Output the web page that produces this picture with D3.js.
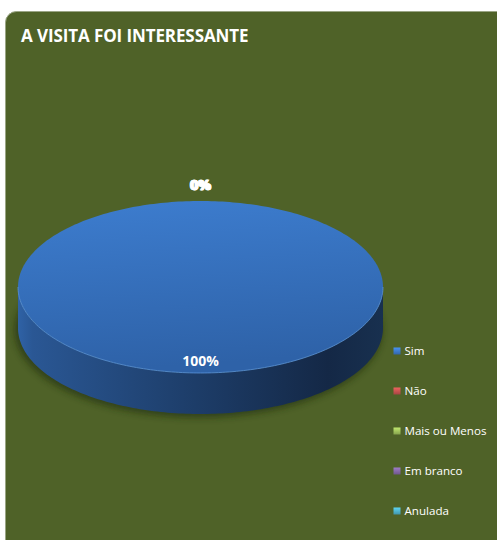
<!DOCTYPE html>
<html>
<head>
<meta charset="utf-8">
<script src="https://cdn.jsdelivr.net/npm/d3@7"></script>
<style>
  html, body { margin: 0; padding: 0; background: #ffffff; }
  svg { display: block; }
  text { font-family: "Open Sans", "Noto Sans", sans-serif; }
</style>
</head>
<body>
<svg id="chart" width="497" height="540"></svg>
<script>
// Survey answers
const categories = ["Sim", "Não", "Mais ou Menos", "Em branco", "Anulada"];
const values = [100, 0, 0, 0, 0];
const colors = ["#3a76c4", "#c0504d", "#9bbb59", "#8064a2", "#4bacc6"];
const title = "A VISITA FOI INTERESSANTE";

const svg = d3.select("#chart");
const defs = svg.append("defs");

// Background panel
svg.append("rect")
  .attr("x", 5.5).attr("y", 11.5)
  .attr("width", 540).attr("height", 560)
  .attr("rx", 11)
  .attr("fill", "#4f6228")
  .attr("stroke", "#9aa585").attr("stroke-width", 1);

svg.append("text")
  .attr("x", 21).attr("y", 42)
  .attr("fill", "#ffffff")
  .attr("font-size", 17).attr("font-weight", "bold")
  .attr("letter-spacing", -0.1)
  .text(title);

// 3D pie geometry
const cx = 200.5, cy = 287, rx = 182.5, ry = 86, depth = 41;
const total = d3.sum(values);
const pie = d3.pie().sort(null).value(d => d.v);
const arcs = pie(categories.map((c, i) => ({ c, v: values[i], color: colors[i] })));

const px = a => cx + rx * Math.sin(a);
const py = a => cy - ry * Math.cos(a);

// gradients
const topGrad = defs.append("linearGradient").attr("id", "topGrad")
  .attr("x1", 0).attr("y1", 0).attr("x2", 0.15).attr("y2", 1);
topGrad.append("stop").attr("offset", 0).attr("stop-color", "#3d7dcf");
topGrad.append("stop").attr("offset", 1).attr("stop-color", "#2e62a8");

const sideGrad = defs.append("linearGradient").attr("id", "sideGrad")
  .attr("x1", 0).attr("y1", 0).attr("x2", 1).attr("y2", 0);
sideGrad.append("stop").attr("offset", 0).attr("stop-color", "#2f62a6");
sideGrad.append("stop").attr("offset", 0.04).attr("stop-color", "#2a5794");
sideGrad.append("stop").attr("offset", 0.45).attr("stop-color", "#1e3f6c");
sideGrad.append("stop").attr("offset", 0.85).attr("stop-color", "#142846");
sideGrad.append("stop").attr("offset", 1).attr("stop-color", "#18304f");

const shadow = defs.append("filter").attr("id", "shadow")
  .attr("x", -0.1).attr("y", -0.1).attr("width", 1.2).attr("height", 1.3);
shadow.append("feGaussianBlur").attr("stdDeviation", 3);

function ellipsePath(a0, a1, dy) {
  const steps = Math.max(2, Math.ceil((a1 - a0) / 0.02));
  return d3.range(steps + 1).map(k => {
    const a = a0 + (a1 - a0) * k / steps;
    return [px(a), py(a) + dy];
  });
}

const g = svg.append("g");

// soft shadow under the pie
g.append("ellipse")
  .attr("cx", cx - 2).attr("cy", cy + depth + 2)
  .attr("rx", rx + 2).attr("ry", ry + 2)
  .attr("fill", "#1d2a10").attr("opacity", 0.55)
  .attr("filter", "url(#shadow)");

// side walls (only the front half is visible)
arcs.forEach(d => {
  if (d.endAngle - d.startAngle <= 0) return;
  const a0 = Math.max(d.startAngle, Math.PI / 2);
  const a1 = Math.min(d.endAngle, 3 * Math.PI / 2);
  if (a1 <= a0) return;
  const upper = ellipsePath(a0, a1, 0);
  const lower = ellipsePath(a0, a1, depth).reverse();
  g.append("path")
    .attr("d", d3.line()(upper.concat(lower)) + "Z")
    .attr("fill", d.index === 0 ? "url(#sideGrad)" : d3.color(d.data.color).darker(1.2));
});

// top faces
arcs.forEach(d => {
  if (d.endAngle - d.startAngle <= 0) return;
  const pts = ellipsePath(d.startAngle, d.endAngle, 0);
  const full = d.endAngle - d.startAngle >= 2 * Math.PI - 1e-9;
  const path = full ? d3.line()(pts) + "Z" : d3.line()([[cx, cy]].concat(pts)) + "Z";
  g.append("path")
    .attr("d", path)
    .attr("fill", d.index === 0 ? "url(#topGrad)" : d.data.color);
});

// rim highlight along the front edge of the top face
g.append("path")
  .attr("d", d3.line()(ellipsePath(Math.PI / 2, 3 * Math.PI / 2, 0)))
  .attr("fill", "none").attr("stroke", "#5a92d8").attr("stroke-width", 1).attr("opacity", 0.8);

// data labels (empty slices all sit at the top and stack on each other)
arcs.forEach((d, i) => {
  const pct = Math.round(d.data.v / total * 100) + "%";
  const mid = (d.startAngle + d.endAngle) / 2;
  let x, y;
  if (d.data.v === 0) {
    x = px(mid) + (i - 2.5) * 0.5;
    y = py(mid) - 11;
  } else {
    const full = d.endAngle - d.startAngle >= 2 * Math.PI - 1e-9;
    const a = full ? Math.PI : mid;
    x = full ? cx : cx + rx * 0.6 * Math.sin(a);
    y = full ? cy + ry * 0.92 - 0.5 : cy - ry * 0.6 * Math.cos(a);
  }
  g.append("text")
    .attr("x", x).attr("y", y)
    .attr("text-anchor", "middle")
    .attr("fill", "#ffffff")
    .attr("stroke", d.data.v === 0 ? "#ffffff" : "none")
    .attr("stroke-width", 0.5)
    .attr("font-size", 14).attr("font-weight", "bold")
    .text(pct);
});

// legend
const legend = svg.append("g");
const ly = d3.scalePoint().domain(categories).range([351, 511]);
categories.forEach((c, i) => {
  const gi = legend.append("g").attr("transform", `translate(0,${ly(c)})`);
  const lg = defs.append("linearGradient").attr("id", "lg" + i)
    .attr("x1", 0).attr("y1", 0).attr("x2", 0).attr("y2", 1);
  lg.append("stop").attr("offset", 0).attr("stop-color", d3.color(colors[i]).brighter(0.6));
  lg.append("stop").attr("offset", 1).attr("stop-color", d3.color(colors[i]).darker(0.4));
  gi.append("rect").attr("x", 393.5).attr("y", -3.5).attr("width", 7).attr("height", 7)
    .attr("fill", "url(#lg" + i + ")");
  gi.append("text").attr("x", 404.5).attr("y", 4.2)
    .attr("fill", "#ffffff").attr("font-size", 11.6)
    .text(c);
});
</script>
</body>
</html>
